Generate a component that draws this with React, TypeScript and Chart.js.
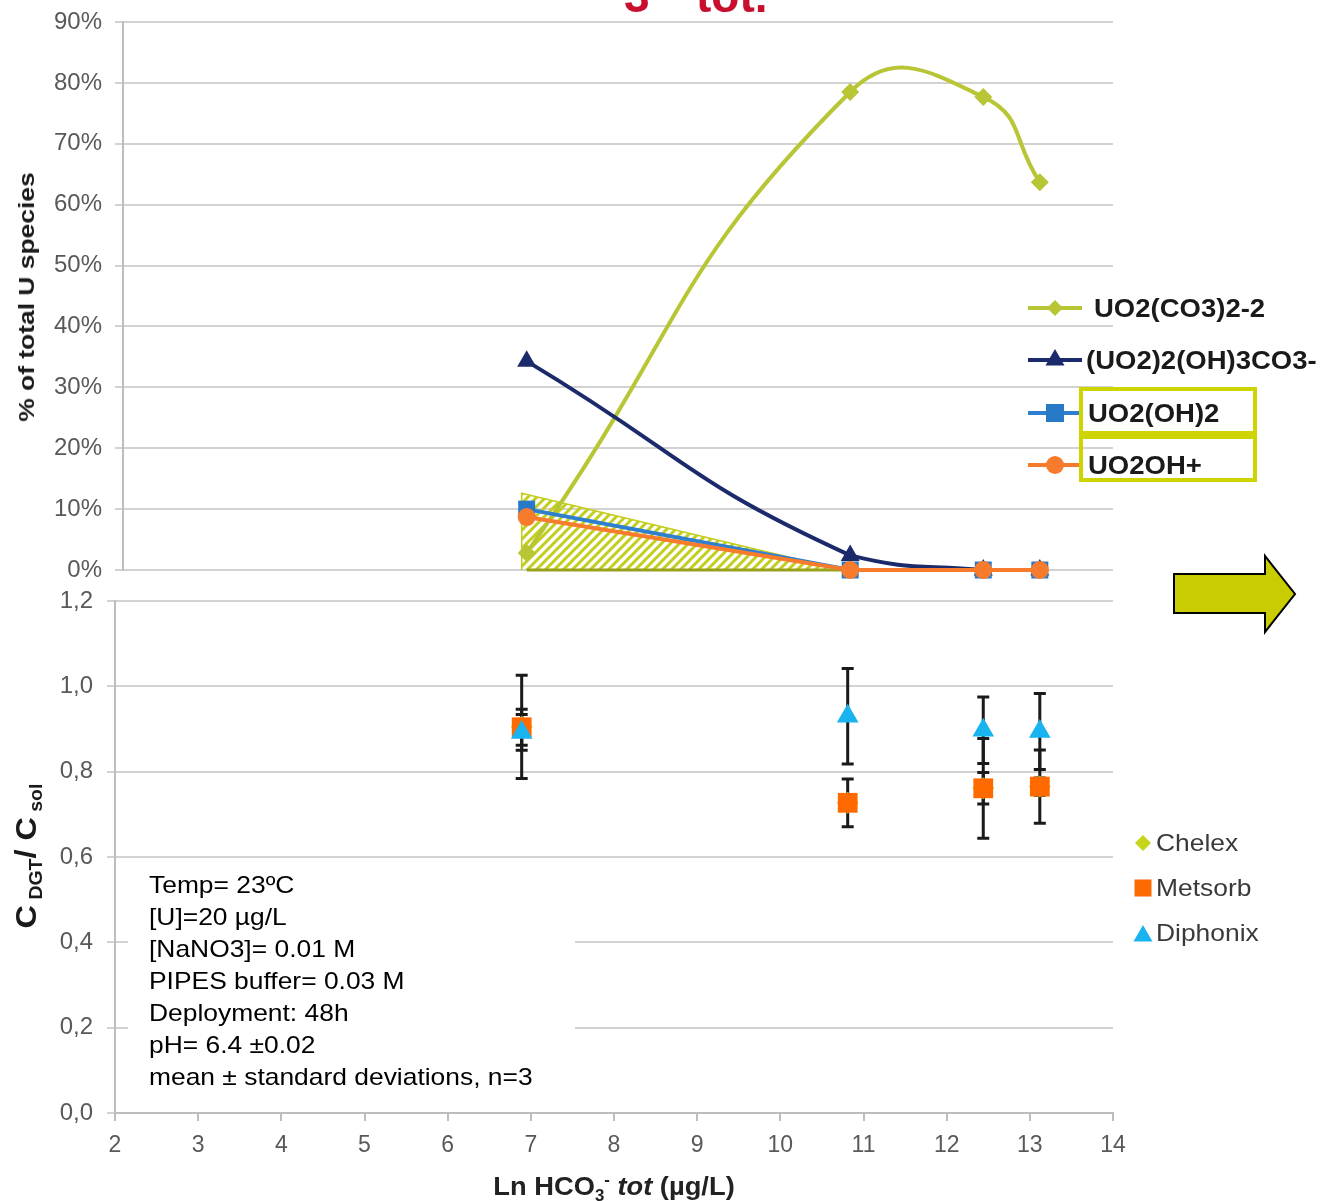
import React, { useEffect, useRef } from 'react';
import { Chart, registerables } from 'chart.js';

Chart.register(...registerables);
Chart.defaults.font.family = "'Liberation Sans', Arial, sans-serif";

// ---------- Top chart: speciation ----------
const speciesX = [6.95, 10.84, 12.44, 13.12];
const uo2co3 = [2.8, 78.5, 77.7, 63.7];
const uo22oh3co3 = [34.3, 2.4, 0, 0];
const uo2oh2 = [10.0, 0, 0, 0];
const uo2oh = [8.7, 0, 0, 0];
const hatchX = [6.89, 6.89, 10.75];
const hatchY = [0, 12.6, 0];
const baseX = [6.95, 10.75];
const baseY = [0, 0];
const speciesLabels = ['UO2(CO3)2-2', '(UO2)2(OH)3CO3-', 'UO2(OH)2', 'UO2OH+'];

// ---------- Bottom chart: DGT ratio ----------
const dgtX = [6.89, 10.81, 12.44, 13.12];
const chelex = [0.905, 0.727, 0.761, 0.765];
const chelexErr = [0.121, 0.015, 0.037, 0.02];
const metsorb = [0.904, 0.727, 0.761, 0.765];
const metsorbErr = [0.042, 0.056, 0.117, 0.086];
const diphonix = [0.892, 0.93, 0.897, 0.894];
const diphonixErr = [0.042, 0.112, 0.078, 0.089];
const dgtLabels = ['Chelex', 'Metsorb', 'Diphonix'];

const conditions = [
  'Temp= 23ºC',
  '[U]=20 µg/L',
  '[NaNO3]= 0.01 M',
  'PIPES buffer= 0.03 M',
  'Deployment: 48h',
  'pH= 6.4 ±0.02',
  'mean ± standard deviations, n=3',
];

const C_YELLOW = '#b8c535';
const C_NAVY = '#1b2a6b';
const C_BLUE = '#2f7fd0';
const C_ORANGE = '#f77b2d';
const C_HATCH = '#c3cd1c';
const C_BOX = '#cdd400';
const C_CHELEX = '#c6d41c';
const C_METSORB = '#ff6a00';
const C_DIPHONIX = '#19b4ef';
const GRID = '#d2d2d2';
const AXIS = '#bdbdbd';
const TICK = '#595959';

const pts = (xs: number[], ys: number[]) => xs.map((x, i) => ({ x, y: ys[i] }));

const errorBarPlugin = {
  id: 'errorBars',
  beforeDatasetsDraw(chart: any) {
    const { ctx } = chart;
    const x = chart.scales.x;
    const y = chart.scales.y;
    ctx.save();
    ctx.strokeStyle = '#1a1a1a';
    ctx.lineWidth = 3;
    chart.data.datasets.forEach((ds: any) => {
      if (!ds.errors) return;
      ds.data.forEach((p: any, i: number) => {
        const px = x.getPixelForValue(p.x);
        const t = y.getPixelForValue(p.y + ds.errors[i]);
        const b = y.getPixelForValue(p.y - ds.errors[i]);
        ctx.beginPath();
        ctx.moveTo(px, t);
        ctx.lineTo(px, b);
        ctx.moveTo(px - 6, t);
        ctx.lineTo(px + 6, t);
        ctx.moveTo(px - 6, b);
        ctx.lineTo(px + 6, b);
        ctx.stroke();
      });
    });
    ctx.restore();
  },
};

function makeHatch(): CanvasPattern | string {
  const s = 9;
  const c = document.createElement('canvas');
  c.width = s;
  c.height = s;
  const g = c.getContext('2d');
  if (!g) return C_HATCH;
  g.strokeStyle = C_HATCH;
  g.lineWidth = 3;
  g.beginPath();
  g.moveTo(-1, s + 1);
  g.lineTo(s + 1, -1);
  g.moveTo(-2, 2);
  g.lineTo(2, -2);
  g.moveTo(s - 2, s + 2);
  g.lineTo(s + 2, s - 2);
  g.stroke();
  const p = g.createPattern(c, 'repeat');
  return p || C_HATCH;
}

function Marker({ shape, color, cx, cy, r }: { shape: string; color: string; cx: number; cy: number; r: number }) {
  if (shape === 'diamond')
    return <polygon points={`${cx},${cy - r} ${cx + r},${cy} ${cx},${cy + r} ${cx - r},${cy}`} fill={color} />;
  if (shape === 'triangle')
    return (
      <polygon
        points={`${cx},${cy - r} ${cx + 0.866 * r},${cy + 0.5 * r} ${cx - 0.866 * r},${cy + 0.5 * r}`}
        fill={color}
      />
    );
  if (shape === 'square') return <rect x={cx - r} y={cy - r} width={2 * r} height={2 * r} fill={color} />;
  return <circle cx={cx} cy={cy} r={r} fill={color} />;
}

export default function App() {
  const topRef = useRef<HTMLCanvasElement>(null);
  const botRef = useRef<HTMLCanvasElement>(null);

  useEffect(() => {
    if (!topRef.current || !botRef.current) return;
    const hatch = makeHatch();
    const common = { clip: false as any, borderWidth: 4, tension: 0.5, pointBorderWidth: 0 };
    const c1 = new Chart(topRef.current, {
      type: 'line',
      data: {
        datasets: [
          {
            data: pts(hatchX, hatchY),
            fill: 'origin',
            backgroundColor: hatch as any,
            borderColor: C_HATCH,
            borderWidth: 1.5,
            pointRadius: 0,
            tension: 0,
            clip: false as any,
            order: 6,
          },
          {
            data: pts(baseX, baseY),
            borderColor: '#98a21a',
            borderWidth: 3,
            pointRadius: 0,
            tension: 0,
            clip: false as any,
            order: 5,
          },
          {
            ...common,
            label: speciesLabels[0],
            data: pts(speciesX, uo2co3),
            borderColor: C_YELLOW,
            backgroundColor: C_YELLOW,
            pointStyle: 'rectRot',
            pointRadius: 9,
            order: 3,
          },
          {
            ...common,
            label: speciesLabels[1],
            data: pts(speciesX, uo22oh3co3),
            borderColor: C_NAVY,
            backgroundColor: C_NAVY,
            pointStyle: 'triangle',
            pointRadius: 11,
            order: 2,
          },
          {
            ...common,
            label: speciesLabels[2],
            data: pts(speciesX, uo2oh2),
            borderColor: C_BLUE,
            backgroundColor: '#2878c8',
            pointStyle: 'rect',
            pointRadius: 12,
            tension: 0,
            order: 1,
          },
          {
            ...common,
            label: speciesLabels[3],
            data: pts(speciesX, uo2oh),
            borderColor: C_ORANGE,
            backgroundColor: C_ORANGE,
            pointStyle: 'circle',
            pointRadius: 9,
            tension: 0,
            order: 0,
          },
        ],
      },
      options: {
        responsive: false,
        animation: false,
        devicePixelRatio: 1,
        layout: { autoPadding: false, padding: { left: 0, right: 210, top: 32, bottom: 30 } },
        plugins: { legend: { display: false }, tooltip: { enabled: false } },
        scales: {
          x: { type: 'linear', min: 2.0962, max: 14, display: false },
          y: {
            min: 0,
            max: 90,
            ticks: {
              stepSize: 10,
              callback: (v: any) => `${v}%`,
              color: TICK,
              font: { size: 24 },
              padding: 13,
            },
            grid: { color: GRID, lineWidth: 2, tickLength: 8 },
            border: { color: AXIS, width: 2 },
            afterFit: (s: any) => {
              s.width = 123;
            },
          },
        },
      },
    });

    const scatterCommon = { showLine: false, clip: false as any, pointBorderWidth: 0 };
    const c2 = new Chart(botRef.current, {
      type: 'scatter',
      data: {
        datasets: [
          {
            ...scatterCommon,
            label: dgtLabels[0],
            data: pts(dgtX, chelex),
            errors: chelexErr,
            backgroundColor: C_CHELEX,
            pointStyle: 'rectRot',
            pointRadius: 11,
            order: 2,
          } as any,
          {
            ...scatterCommon,
            label: dgtLabels[1],
            data: pts(dgtX, metsorb),
            errors: metsorbErr,
            backgroundColor: C_METSORB,
            pointStyle: 'rect',
            pointRadius: 14,
            order: 1,
          } as any,
          {
            ...scatterCommon,
            label: dgtLabels[2],
            data: pts(dgtX, diphonix),
            errors: diphonixErr,
            backgroundColor: C_DIPHONIX,
            pointStyle: 'triangle',
            pointRadius: 12.5,
            order: 0,
          } as any,
        ],
      },
      options: {
        responsive: false,
        animation: false,
        devicePixelRatio: 1,
        layout: { autoPadding: false, padding: { left: 0, right: 210, top: 31, bottom: 0 } },
        plugins: { legend: { display: false }, tooltip: { enabled: false } },
        scales: {
          x: {
            type: 'linear',
            min: 2,
            max: 14,
            ticks: { stepSize: 1, color: TICK, font: { size: 23 }, padding: 11 },
            grid: { drawOnChartArea: false, tickLength: 8, color: AXIS, lineWidth: 2 },
            border: { color: AXIS, width: 2 },
            afterFit: (s: any) => {
              s.height = 88;
            },
          },
          y: {
            min: 0,
            max: 1.2,
            ticks: {
              stepSize: 0.2,
              callback: (v: any) => Number(v).toFixed(1).replace('.', ','),
              color: TICK,
              font: { size: 24 },
              padding: 14,
            },
            grid: { color: GRID, lineWidth: 2, tickLength: 8 },
            border: { color: AXIS, width: 2 },
            afterFit: (s: any) => {
              s.width = 115;
            },
          },
        },
      },
      plugins: [errorBarPlugin],
    });

    return () => {
      c1.destroy();
      c2.destroy();
    };
  }, []);

  const legendShapes = ['diamond', 'triangle', 'square', 'circle'];
  const legendColors = [C_YELLOW, C_NAVY, C_BLUE, C_ORANGE];
  const legendMarkerColors = [C_YELLOW, C_NAVY, '#2878c8', C_ORANGE];
  const legendMarkerR = [8, 11, 9, 9];
  const legendTextLeft = [1094, 1086, 1088, 1088];

  const dgtShapes = ['diamond', 'square', 'triangle'];
  const dgtColors = [C_CHELEX, C_METSORB, C_DIPHONIX];
  const dgtR = [8, 8.5, 11];

  return (
    <div
      style={{
        position: 'fixed',
        left: 0,
        top: 0,
        width: 1323,
        height: 1201,
        background: '#fff',
        overflow: 'hidden',
        fontFamily: "'Liberation Sans', Arial, sans-serif",
      }}
    >
      <canvas
        ref={topRef}
        width={1323}
        height={610}
        style={{ position: 'absolute', left: 0, top: -10, width: 1323, height: 610 }}
      />
      <canvas
        ref={botRef}
        width={1323}
        height={631}
        style={{ position: 'absolute', left: 0, top: 570, width: 1323, height: 631 }}
      />

      {/* cut-off red title */}
      <div
        style={{
          position: 'absolute',
          left: 624,
          top: -27,
          fontSize: 46,
          lineHeight: '46px',
          fontWeight: 'bold',
          color: '#c8102e',
        }}
      >
        3
      </div>
      <div
        style={{
          position: 'absolute',
          left: 696,
          top: -27,
          fontSize: 46,
          lineHeight: '46px',
          fontWeight: 'bold',
          color: '#c8102e',
        }}
      >
        tot.
      </div>

      {/* top y-axis title */}
      <div
        style={{
          position: 'absolute',
          left: 27,
          top: 297,
          transform: 'translate(-50%, -50%) rotate(-90deg) scaleX(1.2)',
          fontSize: 22,
          fontWeight: 'bold',
          whiteSpace: 'nowrap',
          color: '#1a1a1a',
          lineHeight: '24px',
        }}
      >
        % of total U species
      </div>

      {/* top legend */}
      {speciesLabels.map((lab, i) => {
        const cy = 308 + i * 52.3;
        return (
          <React.Fragment key={lab}>
            <svg
              width={64}
              height={28}
              style={{ position: 'absolute', left: 1024, top: cy - 14 }}
            >
              <line x1={4} x2={58} y1={14} y2={14} stroke={legendColors[i]} strokeWidth={4} />
              <Marker shape={legendShapes[i]} color={legendMarkerColors[i]} cx={31} cy={14} r={legendMarkerR[i]} />
            </svg>
            <div
              style={{
                position: 'absolute',
                left: legendTextLeft[i],
                top: cy - 15,
                fontSize: 25,
                lineHeight: '30px',
                fontWeight: 'bold',
                whiteSpace: 'nowrap',
                color: '#1a1a1a',
                transform: 'scaleX(1.1)',
                transformOrigin: 'left center',
              }}
            >
              {lab}
            </div>
          </React.Fragment>
        );
      })}
      <div
        style={{
          position: 'absolute',
          left: 1079,
          top: 387,
          width: 178,
          height: 48,
          border: `4px solid ${C_BOX}`,
          boxSizing: 'border-box',
        }}
      />
      <div
        style={{
          position: 'absolute',
          left: 1079,
          top: 435,
          width: 178,
          height: 47,
          border: `4px solid ${C_BOX}`,
          boxSizing: 'border-box',
        }}
      />

      {/* arrow */}
      <svg width={1323} height={1201} style={{ position: 'absolute', left: 0, top: 0, pointerEvents: 'none' }}>
        <polygon
          points="1174,574 1265,574 1265,556 1295,594 1265,632 1265,613 1174,613"
          fill="#c8cc00"
          stroke="#000"
          strokeWidth={2}
          strokeLinejoin="miter"
        />
      </svg>

      {/* bottom y-axis title */}
      <div
        style={{
          position: 'absolute',
          left: 28,
          top: 856,
          transform: 'translate(-50%, -50%) rotate(-90deg) scaleX(1.08)',
          fontWeight: 'bold',
          whiteSpace: 'nowrap',
          color: '#1a1a1a',
          fontSize: 30,
          lineHeight: '34px',
        }}
      >
        C<span style={{ fontSize: 18, position: 'relative', top: 6 }}> DGT</span>/ C
        <span style={{ fontSize: 18, position: 'relative', top: 6 }}> sol</span>
      </div>

      {/* conditions box */}
      <div
        style={{
          position: 'absolute',
          left: 128,
          top: 866,
          width: 447,
          height: 228,
          background: '#fff',
          paddingTop: 3,
          boxSizing: 'border-box',
        }}
      >
        {conditions.map((t) => (
          <div
            key={t}
            style={{
              marginLeft: 21,
              fontSize: 24,
              lineHeight: '32px',
              color: '#000',
              whiteSpace: 'nowrap',
              transform: 'scaleX(1.1)',
              transformOrigin: 'left center',
            }}
          >
            {t}
          </div>
        ))}
      </div>

      {/* bottom legend */}
      {dgtLabels.map((lab, i) => {
        const cy = 843 + i * 45;
        return (
          <React.Fragment key={lab}>
            <svg width={26} height={26} style={{ position: 'absolute', left: 1130, top: cy - 13 }}>
              <Marker shape={dgtShapes[i]} color={dgtColors[i]} cx={13} cy={i === 2 ? 16 : 13} r={dgtR[i]} />
            </svg>
            <div
              style={{
                position: 'absolute',
                left: 1156,
                top: cy - 15,
                fontSize: 24,
                lineHeight: '30px',
                color: '#3a3a3a',
                whiteSpace: 'nowrap',
                transform: 'scaleX(1.1)',
                transformOrigin: 'left center',
              }}
            >
              {lab}
            </div>
          </React.Fragment>
        );
      })}

      {/* x-axis title */}
      <div
        style={{
          position: 'absolute',
          left: 614,
          top: 1188,
          transform: 'translate(-50%, -50%) scaleX(1.05)',
          fontWeight: 'bold',
          fontSize: 26,
          lineHeight: '30px',
          whiteSpace: 'nowrap',
          color: '#222',
        }}
      >
        Ln HCO
        <span style={{ fontSize: 16, position: 'relative', top: 6 }}>3</span>
        <span style={{ fontSize: 16, position: 'relative', top: -10 }}>-</span>{' '}
        <i>tot</i> (µg/L)
      </div>
    </div>
  );
}
